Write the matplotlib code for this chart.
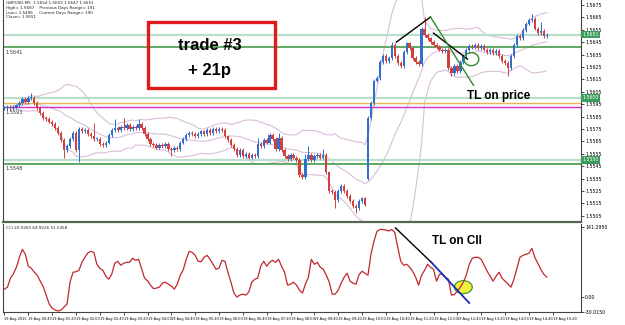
import numpy as np
import pandas as pd

import matplotlib
matplotlib.use("Agg")
import matplotlib.pyplot as plt
from matplotlib.patches import Ellipse, Rectangle
from matplotlib.transforms import blended_transform_factory

# GBPUSD M5, 19 Aug 2015 -- closes in pips above 1.5500, one per bar
close_pips = [
    92, 93, 92, 93, 94, 96, 99, 97, 100, 100,
    96, 92, 88, 84, 83, 81, 79, 76, 72, 66,
    58, 61, 67, 72, 58, 75, 73, 74, 71, 69,
    67, 67, 63, 62, 64, 70, 74, 76, 74, 77,
    76, 78, 75, 77, 76, 79, 76, 71, 67, 63,
    62, 60, 62, 61, 63, 59, 58, 60, 59, 64,
    67, 70, 72, 71, 69, 71, 73, 71, 74, 72,
    75, 73, 75, 74, 69, 66, 62, 59, 54, 58,
    53, 55, 52, 54, 53, 63, 61, 66, 64, 70,
    67, 59, 68, 58, 53, 51, 54, 52, 50, 38,
    36, 51, 54, 50, 53, 54, 52, 54, 40, 25,
    24, 18, 25, 29, 25, 21, 17, 13, 11, 17,
    19, 14, 84, 96, 114, 116, 129, 134, 130, 132,
    143, 134, 128, 126, 137, 144, 140, 132, 129, 127,
    156, 151, 148, 145, 143, 141, 139, 138, 139, 124,
    120, 126, 122, 129, 134, 139, 142, 141, 143, 140,
    142, 139, 137, 139, 136, 138, 134, 130, 128, 124,
    134, 143, 150, 148, 155, 160, 163, 164, 156, 152,
    154, 150, 151,
]
gap_opens = {122: 35}  # news bar opened away from previous close
wick_highs = {9: 104, 30: 80, 37: 83, 40: 84, 45: 83, 71: 77, 85: 68,
              92: 72, 101: 55, 102: 61, 107: 59, 130: 145, 141: 165,
              177: 168, 180: 161}
wick_lows = {20: 52, 25: 48, 56: 53, 111: 11, 118: 7, 150: 118, 169: 118}

cci = [
    16, 20, 38, 47, 60, 80, 96, 86, 62, 58,
    50, 44, 32, 21, 4, -14, -22, -26, -28, -26,
    -20, -14, 30, 50, 51, 54, 70, 80, 89, 92,
    90, 66, 58, 54, 42, 36, 46, 68, 72, 64,
    68, 70, 70, 78, 74, 76, 58, 38, 33, 24,
    17, 18, 20, 28, 30, 26, 22, 16, 26, 44,
    55, 76, 92, 90, 84, 72, 71, 80, 84, 76,
    66, 56, 58, 74, 72, 50, 30, 8, 0, 4,
    6, 4, 10, 30, 36, 38, 62, 72, 62, 70,
    74, 70, 76, 62, 50, 24, 26, 30, 24, 14,
    8, 26, 40, 76, 66, 70, 60, 56, 44, 30,
    6, 6, 14, 28, 40, 48, 32, 28, 26, 45,
    52, 48, 44, 86, 112, 132, 136, 136, 135, 133,
    136, 130, 100, 72, 64, 66, 60, 52, 40, 24,
    44, 54, 66, 60, 56, 32, 46, 46, 40, 36,
    4, 5, 12, 20, 30, 44, 66, 78, 80, 80,
    76, 64, 52, 42, 32, 42, 50, 38, 32, 26,
    20, 36, 58, 80, 84, 86, 88, 98, 80, 68,
    56, 46, 40,
]

# horizontal levels: (price, colour, width)
levels = [
    (1.5651, "#b9dfc8", 1.6), (1.5641, "#5fa862", 1.4),
    (1.5600, "#b9dfc8", 1.6), (1.5596, "#e9b54c", 1.0),
    (1.5593, "#cc33cc", 1.0), (1.5550, "#b9dfc8", 1.6),
    (1.5547, "#5fa862", 1.4),
]
boxed_levels = [1.5651, 1.5600, 1.5550]
left_labels = [1.5641, 1.5593, 1.5548]

# trendlines drawn on the chart: ((bar, pips), (bar, pips), colour)
price_tl = [((131.5, 145.0), (143.0, 165.3), "black"),
            ((144.0, 152.3), (155.4, 131.3), "black"),
            ((143.0, 165.3), (157.4, 110.2), "#2e8b2e")]
cci_tl = [((131.2, 139.3), (143.3, 69.7), "black"),
          ((143.3, 69.7), (156.0, -11.9), "#1030c0")]

time_labels = ["19 Aug 2015"] + [
    f"19 Aug {m // 60:02d}:{m % 60:02d}" for m in range(40, 921, 40)]

BLUE = "#2f6fd0"
RED = "#d2403c"
BAND = "#d9bfd9"

W, H = 625, 325


def box(x0, y0, x1, y1):
    return [x0 / W, 1 - y1 / H, (x1 - x0) / W, (y1 - y0) / H]


def px(p):
    return 1.55 + np.asarray(p, dtype=float) / 1e4


fig = plt.figure(figsize=(W / 100, H / 100), dpi=100)
ax = fig.add_axes(box(3, 0, 581, 222))
axc = fig.add_axes(box(3, 224, 581, 312), sharex=ax)

idx = np.arange(len(close_pips))
closes = px(close_pips)
opens = np.r_[closes[0], closes[:-1]]
for i, p in gap_opens.items():
    opens[i] = px(p)
top = np.maximum(opens, closes)
bot = np.minimum(opens, closes)
highs = top + 1.5e-4
lows = bot - 1.5e-4
for i, p in wick_highs.items():
    highs[i] = px(p)
for i, p in wick_lows.items():
    lows[i] = px(p)
cols = np.where(closes >= opens, BLUE, RED)

# bollinger bands (20, 2)
s = pd.Series(closes)
mid = s.rolling(20, min_periods=3).mean()
sd = s.rolling(20, min_periods=3).std(ddof=0)
for band in (mid, mid + 2 * sd, mid - 2 * sd):
    ax.plot(idx, band, color=BAND, lw=0.8, zorder=1)

for price, c, lw in levels:
    ax.axhline(price, color=c, lw=lw, zorder=2)

ax.vlines(idx, lows, highs, colors=cols, lw=0.7, zorder=3)
ax.bar(idx, np.maximum(top - bot, 0.4e-4), bottom=bot, width=0.8,
       color=cols, linewidth=0, zorder=4)

for (x0, y0), (x1, y1), c in price_tl:
    ax.plot([x0, x1], px([y0, y1]), color=c, lw=1.0, zorder=5)
ax.add_patch(Ellipse((156.7, px(131.3)), 5.0, 10.5e-4, fill=False,
                     edgecolor="#2e8b2e", lw=1.0, zorder=6))

ax.set_xlim(-0.5, 193.5)
ax.set_ylim(1.5500, 1.5679)
ax.set_yticks(np.arange(1.5505, 1.5676, 0.0010))
ax.yaxis.set_major_formatter(matplotlib.ticker.FormatStrFormatter("%.4f"))
ax.tick_params(axis="y", left=False, labelleft=False, right=True,
               labelright=True, labelsize=3.4, length=2, pad=1, width=0.5)
ax.tick_params(axis="x", bottom=False, labelbottom=False)
ax.spines["top"].set_visible(False)
ax.spines["bottom"].set_color("#556655")
ax.spines["bottom"].set_linewidth(1.6)
for side in ("left", "right"):
    ax.spines[side].set_color("#444444")
    ax.spines[side].set_linewidth(0.8)

tr = blended_transform_factory(ax.transAxes, ax.transData)
for p in boxed_levels:
    ax.text(1.002, p, f"{p:.4f}", transform=tr, fontsize=3.4, color="white",
            va="center", ha="left", clip_on=False, zorder=10,
            bbox=dict(boxstyle="square,pad=0.25", fc="#3c9a5c", ec="none"))
for p in left_labels:
    ax.text(0.5, p - 0.00025, f"{p:.4f}", fontsize=3.6, color="#333333",
            va="top", ha="left")

ax.text(0.005, 0.995, "GBPUSD,M5  1.5654 1.5655 1.5647 1.5651\n"
        "High= 1.5687    Previous Days Range= 191\n"
        "Low= 1.5496     Current Days Range= 190\n"
        "Close= 1.5651", transform=ax.transAxes, fontsize=3.0,
        va="top", ha="left", linespacing=1.25, color="#222222")

# trade box
ax.add_patch(Rectangle((145 / 578, 1 - 88 / 222), 127 / 578, 66 / 222,
                       transform=ax.transAxes, fill=False,
                       edgecolor="#e01b1b", lw=2.4, zorder=8))
ax.text(207 / 578, 1 - 45 / 222, "trade #3", transform=ax.transAxes,
        ha="center", va="center", fontsize=12, fontweight="bold",
        family="Liberation Sans", zorder=9)
ax.text(207 / 578, 1 - 70 / 222, "+ 21p", transform=ax.transAxes,
        ha="center", va="center", fontsize=12, fontweight="bold",
        family="Liberation Sans", zorder=9)
ax.text(166.0, px(101.3), "TL on price", ha="center", va="center",
        fontsize=8.5, fontweight="bold", family="Liberation Sans", zorder=9)

# CCI panel
axc.plot(idx, cci, color="#c0282c", lw=0.9, zorder=3)
for (x0, y0), (x1, y1), c in cci_tl:
    axc.plot([x0, x1], [y0, y1], color=c, lw=1.3 if c != "black" else 1.0,
             zorder=4)
axc.add_patch(Ellipse((154.0, 20.0), 6.0, 26.0, facecolor="#f5f03a",
                      edgecolor="#3c9a3c", lw=0.9, zorder=2))
axc.text(152.0, 113, "TL on CII", ha="center", va="center", fontsize=8.5,
         fontweight="bold", family="Liberation Sans", zorder=9)
axc.text(0.005, 0.98, "CCI 20.0260 64.9226 51.5458",
         transform=axc.transAxes, fontsize=3.0, va="top", ha="left",
         color="#222222")

axc.set_ylim(-30, 147)
axc.set_yticks([141.295, 0, -30.015])
axc.set_yticklabels(["141.2950", "0.00", "-30.0150"])
axc.tick_params(axis="y", left=False, labelleft=False, right=True,
                labelright=True, labelsize=3.4, length=2, pad=1, width=0.5)
axc.set_xticks(np.arange(0, 8 * len(time_labels), 8))
axc.set_xticklabels(time_labels, ha="left")
axc.tick_params(axis="x", labelsize=2.5, length=2, pad=1.5, width=0.5)
axc.spines["top"].set_visible(False)
for side in ("left", "right", "bottom"):
    axc.spines[side].set_color("#444444")
    axc.spines[side].set_linewidth(0.8)

fig.savefig("out.png", dpi=100)
plt.close(fig)
